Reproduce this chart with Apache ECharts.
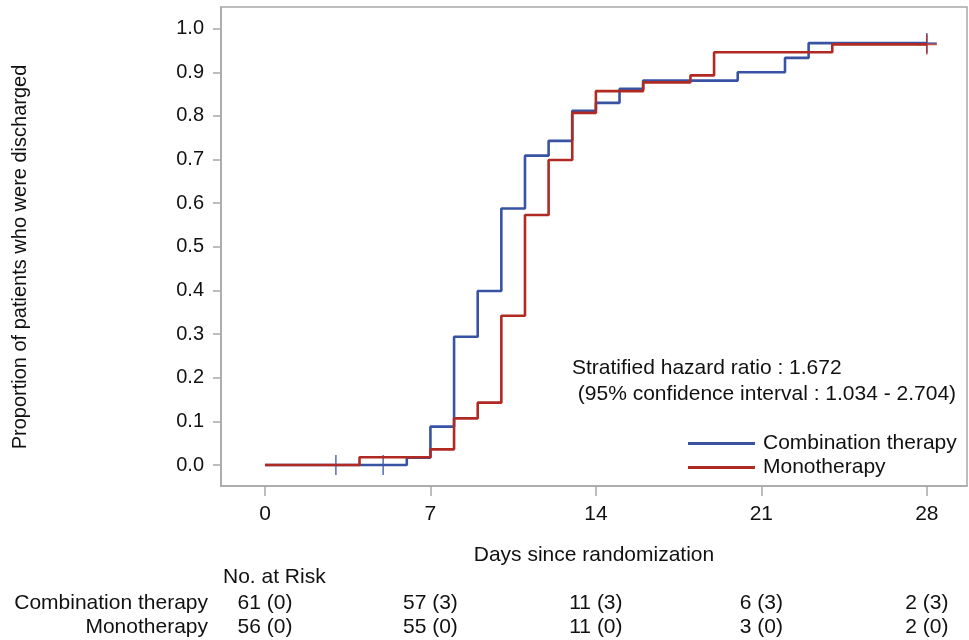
<!DOCTYPE html>
<html>
<head>
<meta charset="utf-8">
<script src="https://cdn.jsdelivr.net/npm/echarts@6/dist/echarts.min.js"></script>
<style>
  html, body { margin: 0; padding: 0; background: #fff; }
  #chart { width: 969px; height: 640px; }
</style>
</head>
<body>
<div id="chart"></div>
<script>
// data
var dayTicks = [0, 7, 14, 21, 28];
var propTicks = [0, 0.1, 0.2, 0.3, 0.4, 0.5, 0.6, 0.7, 0.8, 0.9, 1.0];

var comboTimes = [0, 6, 7, 8, 9, 10, 11, 12, 13, 14, 15, 16, 20, 22, 23, 28];
var comboProp  = [0, 0.017, 0.088, 0.294, 0.399, 0.588, 0.709, 0.743, 0.812, 0.830, 0.862, 0.881, 0.900, 0.933, 0.967, 0.967];
var comboCensor = [3, 5, 28];

var monoTimes = [0, 4, 7, 8, 9, 10, 11, 12, 13, 14, 16, 18, 19, 24, 28];
var monoProp  = [0, 0.018, 0.036, 0.107, 0.143, 0.342, 0.573, 0.699, 0.807, 0.857, 0.877, 0.893, 0.946, 0.964, 0.964];
var monoCensor = [28];

var riskCombo = ['61 (0)', '57 (3)', '11 (3)', '6 (3)', '2 (3)'];
var riskMono  = ['56 (0)', '55 (0)', '11 (0)', '3 (0)', '2 (0)'];

var BLUE = '#3953a4';
var RED = '#b02a23';
var GREY = '#a8a8a8';
var FONT = '"Liberation Sans", Arial, sans-serif';

function pairs(xs, ys) {
  return xs.map(function (x, i) { return [x, ys[i]]; });
}
// value of a step curve at time t
function stepAt(xs, ys, t) {
  var v = ys[0];
  for (var i = 0; i < xs.length; i++) {
    if (xs[i] <= t) v = ys[i];
  }
  return v;
}
function censorPts(times, xs, ys) {
  return times.map(function (t) { return [t, stepAt(xs, ys, t)]; });
}

var plus = 'path://M9.2,0h1.6v20h-1.6zM0,9.2h20v1.6h-20z';

var chart = echarts.init(document.getElementById('chart'));

var option = {
  backgroundColor: '#fff',
  animation: false,
  grid: {
    left: 221, top: 7, right: 2, bottom: 154,
    show: true, borderColor: GREY, borderWidth: 1.5
  },
  xAxis: {
    type: 'value',
    min: -1.86, max: 29.7,
    name: 'Days since randomization',
    nameLocation: 'middle', nameGap: 59,
    nameTextStyle: { fontSize: 21, color: '#111', fontFamily: FONT },
    axisLine: { show: true, onZero: false, lineStyle: { color: GREY, width: 1.5 } },
    axisTick: { show: true, length: 10, customValues: dayTicks, lineStyle: { color: GREY, width: 1.5 } },
    axisLabel: { customValues: dayTicks, margin: 18, fontSize: 21, color: '#111', fontFamily: FONT },
    splitLine: { show: false }
  },
  yAxis: {
    type: 'value',
    min: -0.048, max: 1.0497,
    axisLine: { show: true, onZero: false, lineStyle: { color: GREY, width: 1.5 } },
    axisTick: { show: true, length: 8, customValues: propTicks, lineStyle: { color: GREY, width: 1.5 } },
    axisLabel: {
      customValues: propTicks, margin: 17, fontSize: 20, color: '#111', fontFamily: FONT,
      formatter: function (v) { return v.toFixed(1); }
    },
    splitLine: { show: false }
  },
  legend: {
    orient: 'vertical',
    left: 683, top: 428,
    itemWidth: 67, itemHeight: 3, itemGap: 3,
    icon: 'rect',
    textStyle: { fontSize: 21, color: '#111', fontFamily: FONT, padding: [0, 0, 0, 3] },
    data: ['Combination therapy', 'Monotherapy']
  },
  series: [
    {
      name: 'Combination therapy', type: 'line', step: 'end',
      data: pairs(comboTimes, comboProp),
      showSymbol: false, color: BLUE,
      lineStyle: { color: BLUE, width: 2.6 }
    },
    {
      name: 'Monotherapy', type: 'line', step: 'end',
      data: pairs(monoTimes, monoProp),
      showSymbol: false, color: RED,
      lineStyle: { color: RED, width: 2.6 }
    },
    {
      name: 'comboCensor', type: 'scatter',
      data: censorPts(comboCensor, comboTimes, comboProp),
      symbol: plus, symbolSize: 20, itemStyle: { color: BLUE }
    },
    {
      name: 'monoCensor', type: 'scatter',
      data: censorPts(monoCensor, monoTimes, monoProp),
      symbol: plus, symbolSize: 20, itemStyle: { color: RED }
    }
  ]
};
chart.setOption(option);

// texts placed against the axis scale
function xPx(day) { return chart.convertToPixel({ xAxisIndex: 0 }, day); }

function label(text, x, y, align, size) {
  return {
    type: 'text', x: x, y: y,
    style: { text: text, fontSize: size || 21, fontFamily: FONT,
             fill: '#111', align: align, verticalAlign: 'middle' }
  };
}

var texts = [];
var yTitle = label('Proportion of patients who were discharged', 20, 257, 'center', 20);
yTitle.rotation = Math.PI / 2;
texts.push(yTitle);
texts.push(label('Stratified hazard ratio : 1.672', 572, 368, 'left'));
texts.push(label(' (95% confidence interval : 1.034 - 2.704)', 572, 394, 'left'));
texts.push(label('No. at Risk', 223, 577, 'left'));
texts.push(label('Combination therapy', 208, 603, 'right'));
texts.push(label('Monotherapy', 208, 627, 'right'));
dayTicks.forEach(function (d, i) {
  texts.push(label(riskCombo[i], xPx(d), 603, 'center'));
  texts.push(label(riskMono[i], xPx(d), 627, 'center'));
});

chart.setOption({ graphic: texts });
</script>
</body>
</html>
